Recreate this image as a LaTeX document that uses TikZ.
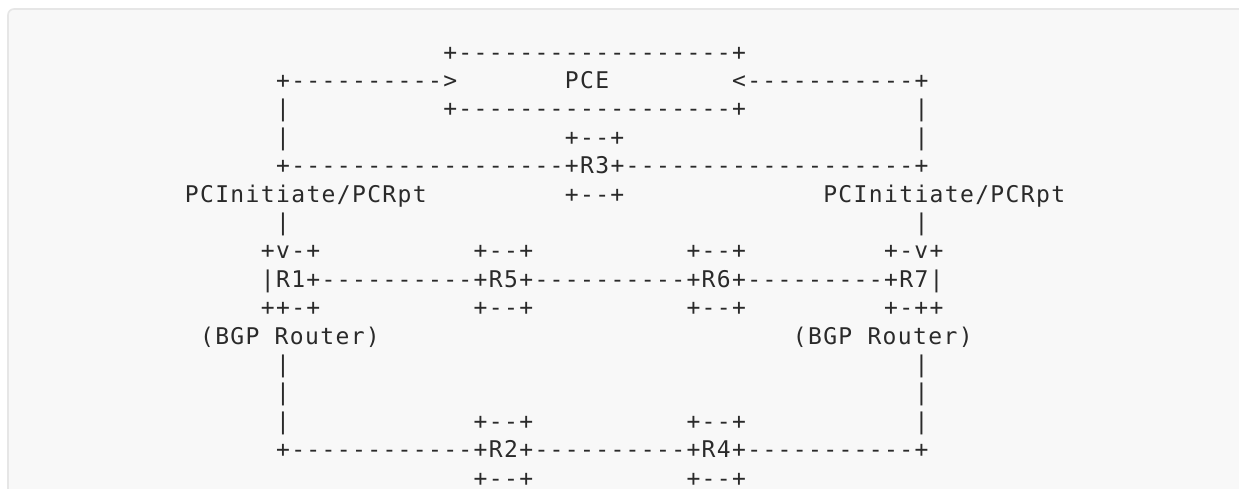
\documentclass[tikz,border=0pt]{standalone}
\usepackage{fontspec}
\newfontfamily\asciifont{DejaVu Sans Mono}[Ligatures=TeXOff,LetterSpace=5.89]
\definecolor{bgfill}{HTML}{F8F8F8}
\definecolor{bordercol}{HTML}{E6E6E6}
\definecolor{inkcol}{HTML}{2A2A2A}
\tikzset{
  asc/.style={anchor=base west, inner sep=0pt, outer sep=0pt,
    font=\asciifont\fontsize{23}{23}\selectfont, text=inkcol},
  panel/.style={fill=bgfill, draw=bordercol, line width=1.6pt, rounded corners=6pt}
}
% \asc{name}{column}{row}{text}
\newcommand{\asc}[4]{\node[asc] (#1) at ({169.7+15.2*#2},{-60.0-28.4*(#3-1)}) {#4};}
\begin{document}
\begin{tikzpicture}[x=1pt,y=1pt]
\useasboundingbox (0,0) rectangle (1239,-488);
\begin{scope}
\clip (0,0) rectangle (1239,-488);
\fill[white] (0,0) rectangle (1239,-488);
\draw[panel] (8,-9) rectangle (1300,-560);
\end{scope}
% row 1
\asc{pcetop}{18}{1}{+------------------+}
% row 2
\asc{arrL}{7}{2}{+---------->}
\asc{pce}{26}{2}{PCE}
\asc{arrR}{37}{2}{<-----------+}
% row 3
\asc{vL3}{7}{3}{|}
\asc{pcebot}{18}{3}{+------------------+}
\asc{vR3}{49}{3}{|}
% row 4
\asc{vL4}{7}{4}{|}
\asc{rthreetop}{26}{4}{+--+}
\asc{vR4}{49}{4}{|}
% row 5
\asc{rthree}{7}{5}{+------------------+R3+-------------------+}
% row 6
\asc{pciL}{1}{6}{PCInitiate/PCRpt}
\asc{rthreebot}{26}{6}{+--+}
\asc{pciR}{43}{6}{PCInitiate/PCRpt}
% row 7
\asc{vL7}{7}{7}{|}
\asc{vR7}{49}{7}{|}
% row 8
\asc{ronetop}{6}{8}{+v-+}
\asc{rfivetop}{20}{8}{+--+}
\asc{rsixtop}{34}{8}{+--+}
\asc{rseventop}{47}{8}{+-v+}
% row 9
\asc{midline}{6}{9}{|R1+----------+R5+----------+R6+---------+R7|}
% row 10
\asc{ronebot}{6}{10}{++-+}
\asc{rfivebot}{20}{10}{+--+}
\asc{rsixbot}{34}{10}{+--+}
\asc{rsevenbot}{47}{10}{+-++}
% row 11
\asc{bgpL}{2}{11}{(BGP~Router)}
\asc{bgpR}{41}{11}{(BGP~Router)}
% rows 12-13
\asc{vL12}{7}{12}{|}
\asc{vR12}{49}{12}{|}
\asc{vL13}{7}{13}{|}
\asc{vR13}{49}{13}{|}
% row 14
\asc{vL14}{7}{14}{|}
\asc{rtwotop}{20}{14}{+--+}
\asc{rfourtop}{34}{14}{+--+}
\asc{vR14}{49}{14}{|}
% row 15
\asc{botline}{7}{15}{+------------+R2+----------+R4+-----------+}
% row 16
\asc{rtwobot}{20}{16}{+--+}
\asc{rfourbot}{34}{16}{+--+}
\end{tikzpicture}
\end{document}
